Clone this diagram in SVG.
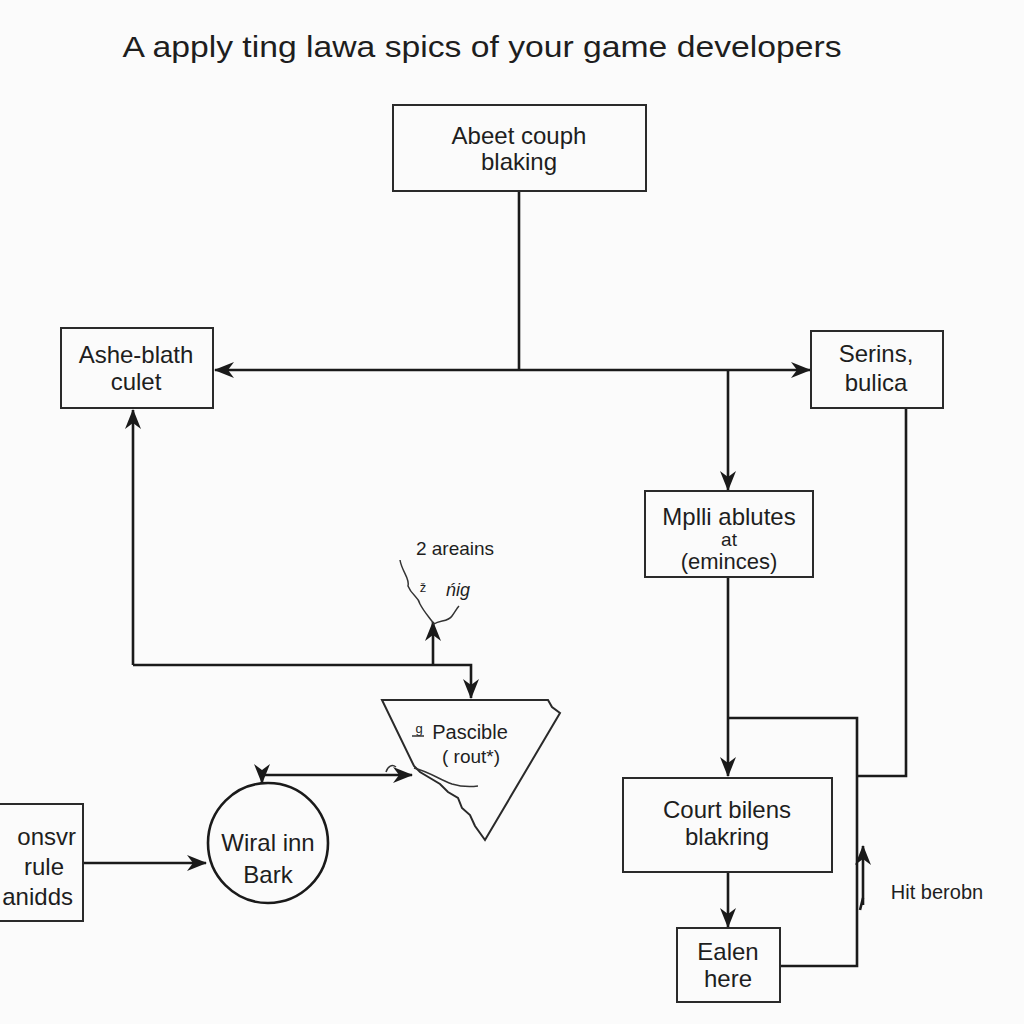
<svg xmlns="http://www.w3.org/2000/svg" width="1024" height="1024" viewBox="0 0 1024 1024">
<defs>
<style>
.box{fill:#fbfbfb;stroke:#2a2a2a;stroke-width:2}
.ln{fill:none;stroke:#1a1a1a;stroke-width:2.6}
.thin{fill:none;stroke:#333;stroke-width:1.5}
text{font-family:"Liberation Sans",Arial,sans-serif;fill:#1e1e1e;text-anchor:middle}
.t{font-size:24px}
</style>
<marker id="ah" viewBox="0 0 20 16" refX="19" refY="8" markerWidth="20" markerHeight="16" markerUnits="userSpaceOnUse" orient="auto">
<path d="M0,0 L20,8 L0,16 L6,8 Z" fill="#1a1a1a"/>
</marker>
</defs>
<rect width="1024" height="1024" fill="#fbfbfb"/>
<text x="482" y="57" style="font-size:30px" textLength="719" lengthAdjust="spacingAndGlyphs">A apply ting lawa spics of your game developers</text>

<g id="connectors">
<path class="ln" d="M519,191 V370"/>
<path class="ln" d="M519,370 H215" marker-end="url(#ah)"/>
<path class="ln" d="M519,370 H810" marker-end="url(#ah)"/>
<path class="ln" d="M728,370 V490" marker-end="url(#ah)"/>
<path class="ln" d="M728,577 V776" marker-end="url(#ah)"/>
<path class="ln" d="M728,872 V927" marker-end="url(#ah)"/>
<path class="ln" d="M780,966 H857 V718 H729"/>
<path class="ln" d="M906,408 V776 H857"/>
<path class="ln" d="M863,905 V846" marker-end="url(#ah)"/>
<path class="ln" d="M863,898 L860,910"/>
<path class="ln" d="M133,665 V410" marker-end="url(#ah)"/>
<path class="ln" d="M133,665 H471 V698" marker-end="url(#ah)"/>
<path class="ln" d="M433,665 V622" marker-end="url(#ah)"/>
<path class="ln" d="M84,863 H206" marker-end="url(#ah)"/>
<path class="ln" d="M262,775 H412" marker-end="url(#ah)"/>
<path class="ln" d="M262,774 V783" marker-end="url(#ah)"/>
</g>

<g id="n-top"><rect class="box" x="393" y="105" width="253" height="86"/>
<text class="t" x="519" y="144">Abeet couph</text><text class="t" x="519" y="170">blaking</text></g>

<g id="n-left"><rect class="box" x="61" y="328" width="152" height="80"/>
<text class="t" x="136" y="363">Ashe-blath</text><text class="t" x="136" y="390">culet</text></g>

<g id="n-right"><rect class="box" x="811" y="331" width="132" height="77"/>
<text class="t" x="876" y="362">Serins,</text><text class="t" x="876" y="391">bulica</text></g>

<g id="n-mplli"><rect class="box" x="645" y="491" width="168" height="86"/>
<text class="t" x="729" y="525">Mplli ablutes</text><text x="729" y="546" style="font-size:19px">at</text><text style="font-size:22px" x="729" y="569">(eminces)</text></g>

<g id="n-court"><rect class="box" x="623" y="778" width="209" height="94"/>
<text class="t" x="727" y="818">Court bilens</text><text class="t" x="727" y="845">blakring</text></g>

<g id="n-ealen"><rect class="box" x="677" y="928" width="103" height="74"/>
<text class="t" x="728" y="960">Ealen</text><text class="t" x="728" y="987">here</text></g>

<g id="n-hit"><text x="937" y="899" style="font-size:20px">Hit berobn</text></g>

<g id="n-onsvr"><rect class="box" x="-4" y="804" width="87" height="117"/>
<text class="t" x="76" y="845" style="text-anchor:end">onsvr</text><text class="t" x="44" y="875">rule</text><text class="t" x="73" y="905" style="text-anchor:end">anidds</text></g>

<g id="n-wiral"><circle cx="268" cy="843" r="60" fill="#fbfbfb" stroke="#1a1a1a" stroke-width="2.6"/>
<text class="t" x="268" y="851">Wiral inn</text><text class="t" x="268" y="883">Bark</text></g>

<g id="n-pascible">
<path fill="#fbfbfb" stroke="#2a2a2a" stroke-width="2" d="M382,700 H548 L552,707 L560,713 L485,840 L475,826 L470,815 L462,808 L458,798 L448,792 L440,784 L430,778 L420,772 L414,766 Z"/>
<path class="thin" d="M414,768 C430,772 440,780 452,784 C462,787 470,787 478,786"/>
<text x="470" y="739" style="font-size:20px">Pascible</text>
<text x="419" y="733" style="font-size:13px">g</text>
<path class="thin" d="M412,736 H424"/>
<text x="471" y="763" style="font-size:19px">( rout*)</text>
<path class="thin" d="M386,772 C388,766 392,764 396,767"/>
</g>

<g id="n-areains">
<text x="455" y="555" style="font-size:19px">2 areains</text>
<text x="423" y="592" style="font-size:13px">ž</text>
<text x="458" y="596" style="font-size:18px;font-style:italic">ńig</text>
<path class="thin" d="M400,560 C402,572 410,578 408,586 C412,596 418,596 420,604 C424,612 430,618 434,624 C440,620 448,622 452,616 C455,612 457,608 459,606"/>
</g>
</svg>
